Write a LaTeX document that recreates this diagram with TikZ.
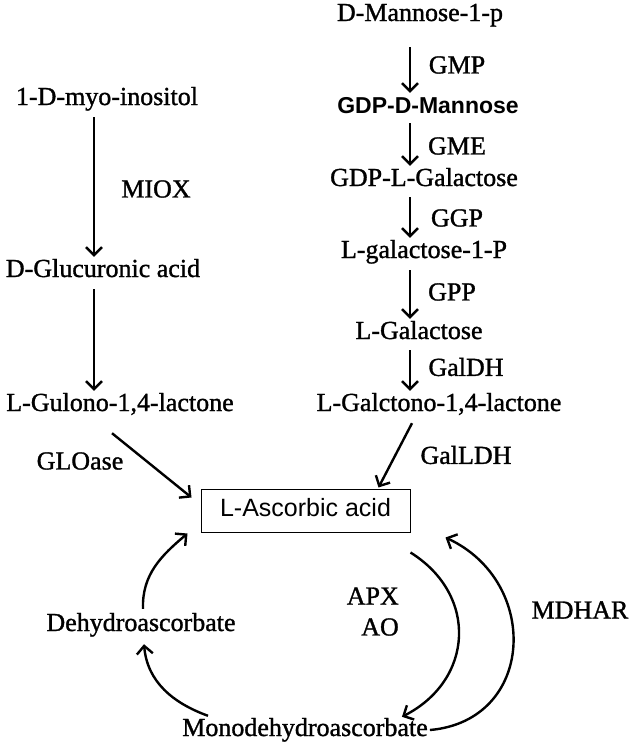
\documentclass[tikz,border=0pt]{standalone}
\usepackage{fontspec}
\setmainfont{Liberation Serif}[FakeBold=1.2]
\newfontfamily\sansfam{Liberation Sans}
\usetikzlibrary{arrows.meta}

\begin{document}
\begin{tikzpicture}[x=1pt,y=1pt]
  \tikzset{metab/.style = {inner sep=2pt, text height=18pt, text depth=6pt, font=\fontsize{26}{30}\selectfont}}
  \tikzset{sansmetab/.style = {metab, font=\sansfam\fontsize{25}{28}\selectfont}}
  \tikzset{enz/.style = {inner sep=1pt, font=\fontsize{26}{30}\selectfont}}
  \tikzset{react/.style = {line width=2.4pt, -{Straight Barb[length=8pt,width=16pt]}}}

  \useasboundingbox (0,0) rectangle (635,-750);

	% D-mannose branch
	\node[metab] (man1p) at (420,-15) {D-Mannose-1-p};
	\node[sansmetab, font=\sansfam\bfseries\fontsize{23}{28}\selectfont] (gdpman) at (428,-107) {GDP-D-Mannose};
	\node[metab] (gdpgal) at (424,-180) {GDP-L-Galactose};
	\node[metab] (gal1p) at (424,-252) {L-galactose-1-P};
	\node[metab] (lgal) at (419,-333) {L-Galactose};
	\node[metab] (galac) at (439,-405) {L-Galctono-1,4-lactone};

	% myo-inositol branch
	\node[metab] (inos) at (107,-99) {1-D-myo-inositol};
	\node[metab] (glca) at (103,-271) {D-Glucuronic acid};
	\node[metab] (gulo) at (120,-405) {L-Gulono-1,4-lactone};

	% recycling
	\node[sansmetab, draw, line width=1pt, minimum width=209pt, minimum height=43pt] (asa) at (305.5,-510.5) {L-Ascorbic acid};
	\node[metab] (dha) at (141,-625) {Dehydroascorbate};
	\node[metab] (mdha) at (305,-730) {Monodehydroascorbate};

	\node[enz] (gmp) at (457,-65) {GMP};
	\node[enz] (gme) at (457,-146) {GME};
	\node[enz] (ggp) at (457,-218) {GGP};
	\node[enz] (gpp) at (452,-292) {GPP};
	\node[enz] (galdh) at (466,-367) {GalDH};
	\node[enz] (miox) at (156,-189) {MIOX};
	\node[enz] (gloase) at (80,-461) {GLOase};
	\node[enz] (galldh) at (466,-455) {GalLDH};
	\node[enz, anchor=east] (apx) at (400,-596) {APX};
	\node[enz, anchor=east] (ao) at (400,-627) {AO};
	\node[enz] (mdhar) at (580,-610) {MDHAR};

	\coordinate (rx) at (410,0);
	\coordinate (lx) at (94,0);

    \foreach \from/\to/\gap in {man1p/gdpman/18, gdpman/gdpgal/2, gdpgal/gal1p/3, gal1p/lgal/4, lgal/galac/3}
    \draw[react, shorten <=\gap pt] (\from.south -| rx) -- (\to.north -| rx);

    \foreach \from/\to in {inos/glca, glca/gulo}
    \draw[react, shorten <=4pt] (\from.south -| lx) -- (\to.north -| lx);

	\draw[react] ([shift={(-8,-14)}]gulo.south) -- ([shift={(-9,-9)}]asa.north west);
	\draw[react] ([shift={(-27,-4)}]galac.south) -- ([shift={(-32,1)}]asa.north east);

	\draw[react] ([shift={(0,-20)}]asa.south east) to[out=-32, in=27, looseness=1.25] ([shift={(-28,-1)}]mdha.north east);
	\draw[react] (mdha.east) to[out=5, in=-25, looseness=1.4] ([shift={(35,-5)}]asa.south east);
	\draw[react] ([shift={(-97,0)}]mdha.north) to[out=160, in=-85] ([shift={(3,-5)}]dha.south);
	\draw[react] ([shift={(2,2)}]dha.north) to[out=92, in=-140] ([shift={(-13,-1)}]asa.south west);

\end{tikzpicture}
\end{document}
